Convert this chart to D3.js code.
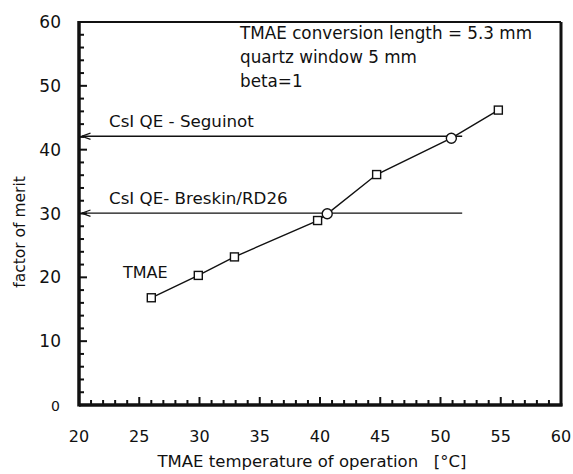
<!DOCTYPE html>
<html>
<head>
<meta charset="utf-8">
<script src="https://cdn.jsdelivr.net/npm/d3@7"></script>
<style>
  body { margin: 0; background: #fff; }
  text { font-family: "DejaVu Sans", sans-serif; fill: #111; }
</style>
</head>
<body>
<svg id="chart" width="573" height="474"></svg>
<script>
// TMAE curve (temperature, factor of merit)
var tempC = [26.0, 29.9, 32.9, 39.8, 40.6, 44.7, 50.9, 54.8];
var merit = [16.8, 20.3, 23.2, 28.9, 29.95, 36.1, 41.8, 46.2];
// marker shape per point
var markers = ["sq", "sq", "sq", "sq", "ci", "sq", "ci", "sq"];

// reference CsI QE levels
var refNames = ["CsI QE - Seguinot", "CsI QE- Breskin/RD26"];
var refLevels = [42.1, 30.05];
var refEnd = 51.8;

var xTicks = [20, 25, 30, 35, 40, 45, 50, 55, 60];
var yTicks = [0, 10, 20, 30, 40, 50, 60];

var notes = ["TMAE conversion length = 5.3 mm", "quartz window 5 mm", "beta=1"];

var svg = d3.select("#chart");
var pLeft = 79, pRight = 561, pTop = 22, pBottom = 405;

var x = d3.scaleLinear().domain([20, 60]).range([pLeft, pRight]);
var y = d3.scaleLinear().domain([0, 60]).range([pBottom, pTop]);

// minor + major ticks, drawn inward
var xMinor = d3.range(20, 61, 1);
var yMinor = d3.range(0, 61, 2);

svg.append("g").selectAll("line").data(xMinor).join("line")
    .attr("x1", d => x(d)).attr("x2", d => x(d))
    .attr("y1", pBottom).attr("y2", d => pBottom - (d % 5 == 0 ? 8 : 5))
    .attr("stroke", "#111").attr("stroke-width", 2);

svg.append("g").selectAll("line").data(yMinor).join("line")
    .attr("y1", d => y(d)).attr("y2", d => y(d))
    .attr("x1", pLeft).attr("x2", d => pLeft + (d % 10 == 0 ? 8 : 5))
    .attr("stroke", "#111").attr("stroke-width", 2);

// frame
svg.append("line").attr("x1", pLeft).attr("x2", pRight).attr("y1", pTop).attr("y2", pTop)
    .attr("stroke", "#111").attr("stroke-width", 2);
svg.append("line").attr("x1", pRight).attr("x2", pRight).attr("y1", pTop).attr("y2", pBottom + 1)
    .attr("stroke", "#111").attr("stroke-width", 3);
svg.append("line").attr("x1", pLeft).attr("x2", pRight + 1.5).attr("y1", pBottom).attr("y2", pBottom)
    .attr("stroke", "#111").attr("stroke-width", 3.5);
svg.append("line").attr("x1", pLeft).attr("x2", pLeft).attr("y1", pTop - 1).attr("y2", pBottom + 1.5)
    .attr("stroke", "#111").attr("stroke-width", 3.5);

// tick labels
svg.append("g").selectAll("text").data(xTicks).join("text")
    .attr("x", d => x(d)).attr("y", 442)
    .attr("text-anchor", "middle").attr("font-size", 16)
    .text(d => d);

svg.append("g").selectAll("text").data(yTicks).join("text")
    .attr("x", d => d == 0 ? 60 : 61).attr("y", d => y(d) + 6)
    .attr("text-anchor", "end").attr("font-size", d => d == 0 ? 14 : 17)
    .text(d => d);

// axis titles
svg.append("text").attr("x", 312).attr("y", 467).attr("text-anchor", "middle")
    .attr("font-size", 16.5).attr("xml:space", "preserve")
    .text("TMAE temperature of operation   [\u00b0C]");

svg.append("text").attr("transform", "translate(25,232) rotate(-90)")
    .attr("text-anchor", "middle").attr("font-size", 15.5)
    .text("factor of merit");

// arrow marker (open "<" head at the left end)
svg.append("defs").append("marker")
    .attr("id", "arr").attr("viewBox", "0 0 10 10")
    .attr("refX", 0).attr("refY", 5)
    .attr("markerWidth", 9).attr("markerHeight", 9)
    .attr("markerUnits", "userSpaceOnUse")
    .attr("orient", "auto")
    .append("path").attr("d", "M10,1.5 L0,5 L10,8.5")
    .attr("fill", "none").attr("stroke", "#111").attr("stroke-width", 1.3);

// reference lines
svg.append("g").selectAll("line").data(refLevels).join("line")
    .attr("x1", x(20) + 2.5).attr("x2", x(refEnd))
    .attr("y1", d => y(d)).attr("y2", d => y(d))
    .attr("stroke", "#111").attr("stroke-width", 1.3)
    .attr("marker-start", "url(#arr)");

svg.append("g").selectAll("text").data(refNames).join("text")
    .attr("x", 109).attr("y", (d, i) => y(refLevels[i]) - 9)
    .attr("font-size", 16.7)
    .text(d => d);

// TMAE curve
var pts = tempC.map((t, i) => [t, merit[i]]);
svg.append("path").datum(pts)
    .attr("d", d3.line().x(d => x(d[0])).y(d => y(d[1])))
    .attr("fill", "none").attr("stroke", "#111").attr("stroke-width", 1.4);

svg.append("g").selectAll("rect").data(pts.filter((p, i) => markers[i] == "sq")).join("rect")
    .attr("x", d => x(d[0]) - 4).attr("y", d => y(d[1]) - 4)
    .attr("width", 8).attr("height", 8)
    .attr("fill", "#fff").attr("stroke", "#111").attr("stroke-width", 1.4);

svg.append("g").selectAll("circle").data(pts.filter((p, i) => markers[i] == "ci")).join("circle")
    .attr("cx", d => x(d[0])).attr("cy", d => y(d[1])).attr("r", 5)
    .attr("fill", "#fff").attr("stroke", "#111").attr("stroke-width", 1.4);

svg.append("text").attr("x", 123).attr("y", 278).attr("font-size", 16).text("TMAE");

// annotation block
svg.append("g").selectAll("text").data(notes).join("text")
    .attr("x", 240).attr("y", (d, i) => 39 + i * 24)
    .attr("font-size", 16.8)
    .text(d => d);
</script>
</body>
</html>
